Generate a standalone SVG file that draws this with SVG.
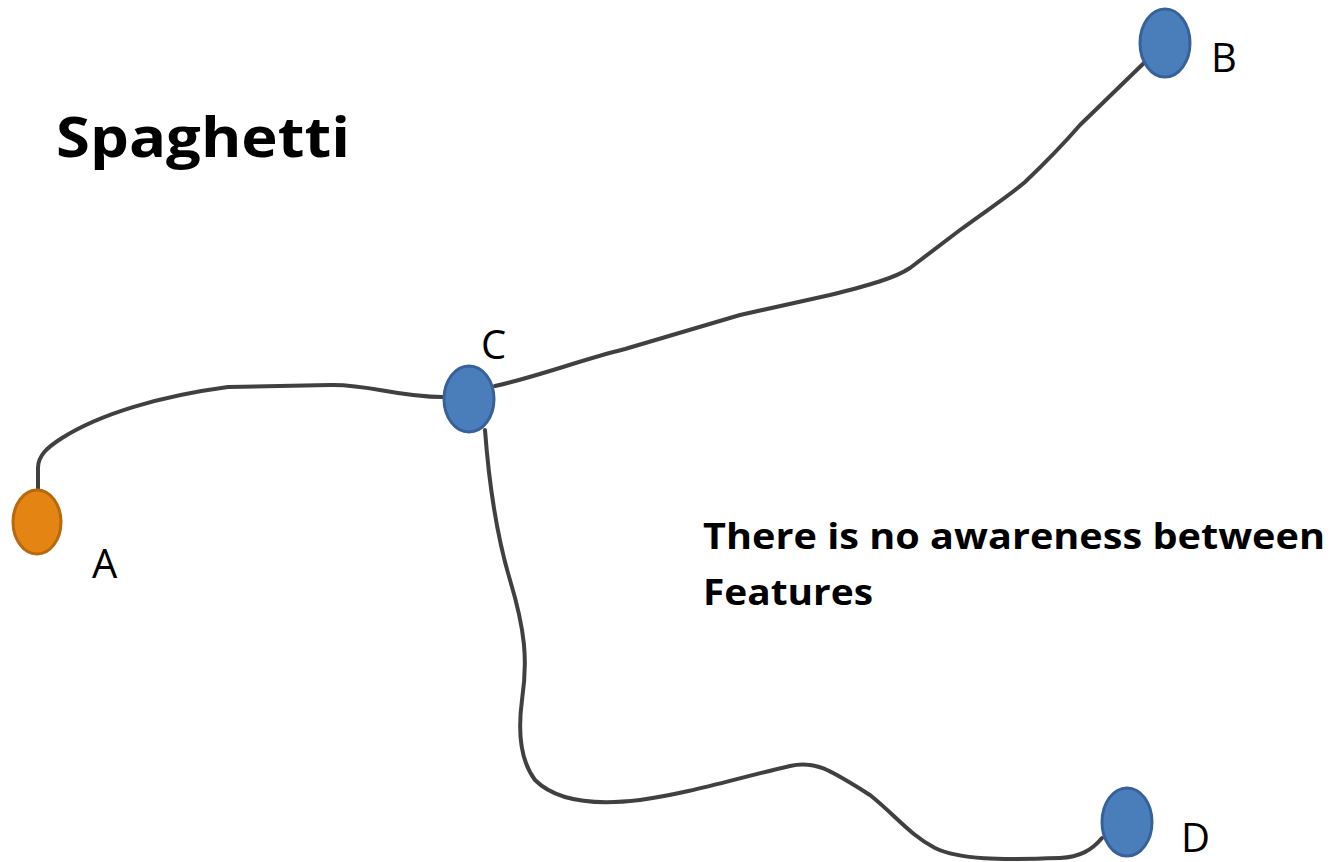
<svg xmlns="http://www.w3.org/2000/svg" width="1336" height="862" viewBox="0 0 1336 862">
<style>
.edge{fill:none;stroke:#404040;stroke-width:4;stroke-linecap:round;stroke-linejoin:round}
.blue{fill:#4a7ebb;stroke:#38609a;stroke-width:3}
.orange{fill:#e48412;stroke:#b6690e;stroke-width:3}
.lbl{font-family:"Open Sans","Liberation Sans",sans-serif;font-size:40px;fill:#000}
.bold{font-family:"Open Sans","Liberation Sans",sans-serif;font-weight:bold;fill:#000}
</style>
<rect width="1336" height="862" fill="#fff"/>
<g id="connectors">
<path class="edge" d="M38,490 L38,468 C38,455 48,447 62,438 C100,414 160,396 228,387 L330,385 C370,384 395,397 443,397"/>
<path class="edge" d="M495,386 C540,376 580,360 625,349 L740,315 L830,295 C870,285 895,278 910,268 L960,230 C990,208 1010,195 1025,182 C1045,163 1060,148 1080,125 L1145,62"/>
<path class="edge" d="M485,430 C488,470 495,530 510,580 C525,630 528,660 522,700 C518,730 520,760 535,780 C555,800 590,806 640,800 C690,793 730,780 790,766 C815,760 830,770 870,795 C895,815 910,835 935,848 C960,860 1000,860 1060,858 C1080,857 1092,850 1102,838"/>
</g>
<g id="node-A">
<ellipse class="orange" cx="37" cy="522" rx="24" ry="32"/>
<text class="lbl" x="92" y="578">A</text>
</g>
<g id="node-B">
<ellipse class="blue" cx="1165" cy="43" rx="25" ry="34"/>
<text class="lbl" x="1211" y="72">B</text>
</g>
<g id="node-C">
<ellipse class="blue" cx="469" cy="399" rx="25" ry="33"/>
<text class="lbl" x="481" y="359">C</text>
</g>
<g id="node-D">
<ellipse class="blue" cx="1127" cy="822" rx="25" ry="34"/>
<text class="lbl" x="1181" y="852">D</text>
</g>
<text class="bold" x="56" y="157" font-size="56" textLength="294" lengthAdjust="spacingAndGlyphs">Spaghetti</text>
<text class="bold" x="703" y="549" font-size="36" textLength="622" lengthAdjust="spacingAndGlyphs">There is no awareness between</text>
<text class="bold" x="703" y="605" font-size="36" textLength="170" lengthAdjust="spacingAndGlyphs">Features</text>
</svg>
